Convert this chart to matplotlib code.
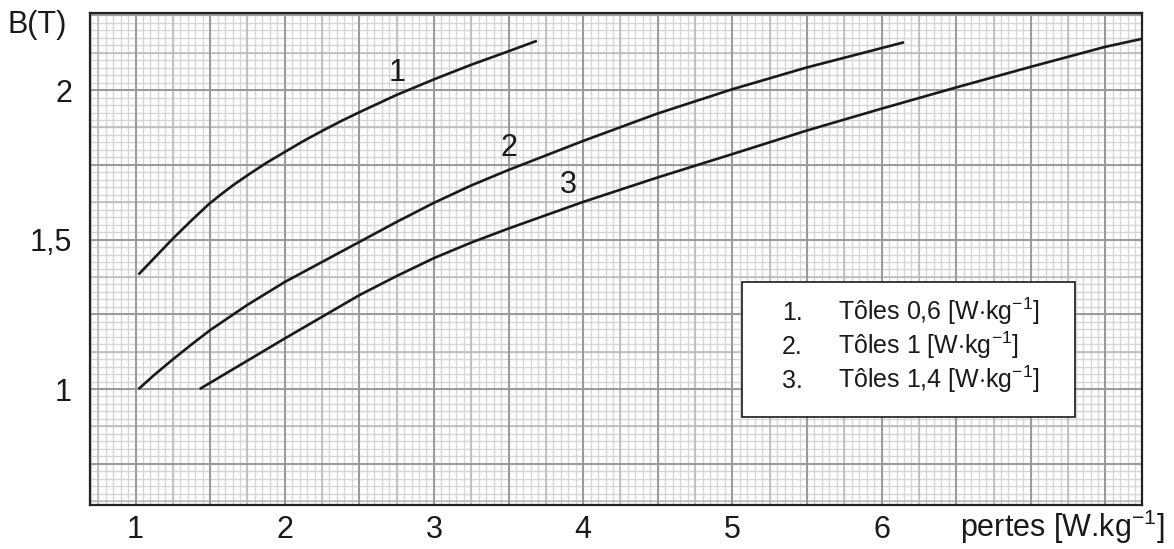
import numpy as np
import matplotlib
matplotlib.use("Agg")
from matplotlib import pyplot as plt
from matplotlib.patches import Rectangle

plt.rcParams['font.family'] = ['Liberation Sans', 'DejaVu Sans']
plt.rcParams['mathtext.fontset'] = 'custom'
plt.rcParams['mathtext.rm'] = 'Liberation Sans'
plt.rcParams['mathtext.it'] = 'Liberation Sans'
plt.rcParams['mathtext.sf'] = 'Liberation Sans'

# curve 1 : Tôles 0,6
x1 = [1.02, 1.25, 1.375, 1.49, 1.58, 1.66, 1.75, 1.875, 2.0, 2.13, 2.26, 2.38,
      2.5, 2.75, 3.0, 3.25, 3.5, 3.69]
y1 = [1.383, 1.503, 1.564, 1.618, 1.654, 1.684, 1.715, 1.756, 1.793, 1.831, 1.866, 1.897,
      1.926, 1.984, 2.036, 2.085, 2.13, 2.165]
# curve 2 : Tôles 1
x2 = [1.02, 1.13, 1.25, 1.375, 1.5, 1.745, 2.0, 2.5, 2.75, 3.0, 3.25, 3.5, 4.0, 4.5,
      5.0, 5.5, 6.15]
y2 = [1.0, 1.049, 1.099, 1.149, 1.197, 1.28, 1.358, 1.492, 1.559, 1.623, 1.681, 1.733,
      1.83, 1.922, 2.003, 2.076, 2.16]
# curve 3 : Tôles 1,4
x3 = [1.43, 2.0, 2.5, 2.75, 3.0, 3.25, 3.5, 4.0, 4.5, 5.0, 5.5, 6.0, 6.5, 7.0, 7.5, 7.74]
y3 = [1.0, 1.169, 1.314, 1.378, 1.438, 1.49, 1.537, 1.626, 1.708, 1.786, 1.865, 1.938,
      2.009, 2.078, 2.145, 2.171]

curve_names = ["1", "2", "3"]
curve_label_pos = [(2.75, 2.058), (3.5, 1.805), (3.9, 1.682)]
legend_labels = ["Tôles 0,6 [W$\\cdot$kg$^{-1}$]",
                 "Tôles 1 [W$\\cdot$kg$^{-1}$]",
                 "Tôles 1,4 [W$\\cdot$kg$^{-1}$]"]

xticks = [1, 2, 3, 4, 5, 6]
yticks = [1, 1.5, 2]
ytick_labels = ["1", "1,5", "2"]

xmin, xmax = 0.695, 7.745
ymin, ymax = 0.612, 2.258

fig = plt.figure(figsize=(11.74, 5.49), dpi=100)
ax = fig.add_axes([90 / 1174, 44 / 549, 1052 / 1174, 492 / 549])
ax.set_xlim(xmin, xmax)
ax.set_ylim(ymin, ymax)

# graph paper grid
gx_minor = np.arange(0.7, 7.8, 0.05)
gy_minor = np.arange(0.625, 2.26, 0.025)
ax.vlines(gx_minor, ymin, ymax, color='#d6d6d6', lw=1.0, zorder=0)
ax.hlines(gy_minor, xmin, xmax, color='#d6d6d6', lw=1.0, zorder=0)
gx_mid = np.arange(0.75, 7.8, 0.25)
gy_mid = np.arange(0.625, 2.26, 0.125)
ax.vlines(gx_mid, ymin, ymax, color='#b8b8b8', lw=1.1, zorder=0)
ax.hlines(gy_mid, xmin, xmax, color='#b8b8b8', lw=1.1, zorder=0)
gx_major = np.arange(1.0, 7.8, 0.5)
gy_major = np.arange(0.75, 2.26, 0.25)
ax.vlines(gx_major, ymin, ymax, color='#9a9a9a', lw=1.4, zorder=0)
ax.hlines(gy_major, xmin, xmax, color='#9a9a9a', lw=1.4, zorder=0)

for xs, ys in [(x1, y1), (x2, y2), (x3, y3)]:
    ax.plot(xs, ys, color='#1a1a1a', lw=1.9, solid_capstyle='butt',
            solid_joinstyle='round', zorder=3)

for name, (tx, ty) in zip(curve_names, curve_label_pos):
    ax.text(tx, ty, name, fontsize=22, color='#1a1a1a', ha='center', va='center', zorder=4)

for side in ['left', 'bottom', 'top', 'right']:
    ax.spines[side].set_linewidth(1.6)
    ax.spines[side].set_color('#222222')

ax.set_xticks(xticks)
ax.set_xticklabels([str(v) for v in xticks])
ax.set_yticks(yticks)
ax.set_yticklabels(ytick_labels)
ax.tick_params(axis='x', length=0, pad=7, labelsize=22, labelcolor='#1a1a1a')
ax.tick_params(axis='y', length=0, pad=13, labelsize=22, labelcolor='#1a1a1a')

# legend box
ax.add_patch(Rectangle((0.6195, 0.1795), 0.3168, 0.2744, transform=ax.transAxes,
                       facecolor='white', edgecolor='#1a1a1a', lw=1.2, zorder=5))
row_y = [0.377, 0.307, 0.237]
for i, (lab, ry) in enumerate(zip(legend_labels, row_y)):
    ax.text(0.6575, ry, "%d." % (i + 1), transform=ax.transAxes, fontsize=18,
            color='#1a1a1a', va='baseline', zorder=6)
    ax.text(0.7113, ry, lab, transform=ax.transAxes, fontsize=18,
            color='#1a1a1a', va='baseline', zorder=6)

fig.text(8 / 1174, 1 - 25 / 549, "B(T)", fontsize=22, color='#1a1a1a', ha='left', va='center')
fig.text(1165 / 1174, 12 / 549, "pertes [W.kg$^{-1}$]", fontsize=22, color='#1a1a1a',
         ha='right', va='baseline')

fig.savefig("out.png", dpi=100)
